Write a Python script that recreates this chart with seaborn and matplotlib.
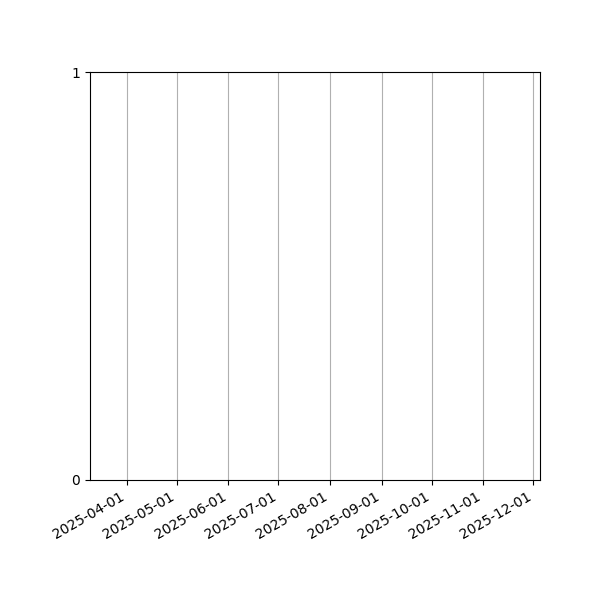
import pandas as pd
import seaborn as sns
import matplotlib.pyplot as plt
import matplotlib.dates as mdates

# Visible window of the timeline (no events recorded in it)
window_start = "2025-03-10"
window_end = "2025-12-05"
event_dates = []
event_levels = []
y_ticks = [0, 1]

events = pd.DataFrame({
    "date": pd.to_datetime(pd.Series(event_dates, dtype="object")),
    "level": pd.Series(event_levels, dtype="float"),
})

fig, ax = plt.subplots(figsize=(6, 6), dpi=100)
sns.scatterplot(data=events, x="date", y="level", ax=ax)

ax.set_xlim(pd.Timestamp(window_start), pd.Timestamp(window_end))
ax.set_ylim(min(y_ticks), max(y_ticks))
ax.set_yticks(y_ticks)
ax.xaxis.set_major_locator(mdates.MonthLocator())
ax.xaxis.set_major_formatter(mdates.DateFormatter("%Y-%m-%d"))
ax.grid(axis="x", color="#b0b0b0", linewidth=0.8)
ax.set_xlabel("")
ax.set_ylabel("")

fig.autofmt_xdate()
fig.subplots_adjust(left=0.15, right=0.9, top=0.88, bottom=0.2)
fig.savefig("out.png", dpi=100)
